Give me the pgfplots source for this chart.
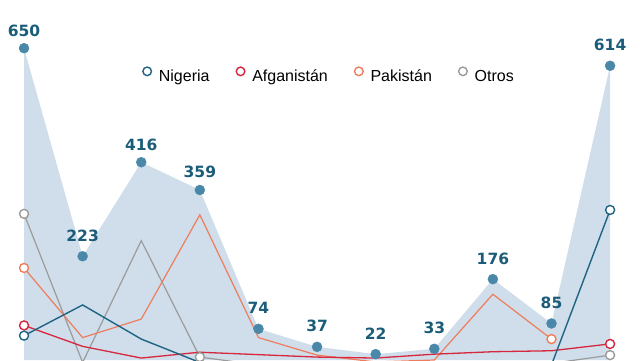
\documentclass[border=0pt]{standalone}
\usepackage{fontspec}
\setmainfont{Liberation Sans}
\newfontfamily\numfont{DejaVu Sans}
\usepackage{pgfplots}
\pgfplotsset{compat=1.18}
\definecolor{areac}{HTML}{CFDEEA}
\definecolor{dotc}{HTML}{4A88AA}
\definecolor{labc}{HTML}{1B5C79}
\definecolor{nig}{HTML}{1F6483}
\definecolor{afg}{HTML}{D7263D}
\definecolor{pak}{HTML}{EE7D5E}
\definecolor{otr}{HTML}{9B9B9B}
\begin{document}
\begin{tikzpicture}
\begin{axis}[name=ax, scale only axis, width=640pt, height=360pt,
  xmin=-0.41, xmax=10.51, ymin=10, ymax=749, axis lines=none, clip=true,
  legend columns=4,
  legend image code/.code={\draw[#1,line width=1.4pt,fill=white] (4.5pt,0) circle (4.3pt); \path (0pt,0) (14pt,0);},
  legend style={draw=none, fill=none, at={(0.514,0.79)}, anchor=center,
    font=\fontsize{16}{18}\selectfont, inner sep=0pt,
    /tikz/every even column/.append style={column sep=24pt}},
  legend cell align=left]
% total area
\addplot[fill=areac, draw=none, forget plot] coordinates {
(0,650)(1,223)(2,416)(3,359)(4,74)(5,37)(6,22)(7,33)(8,176)(9,85)(10,614)} \closedcycle;
% series lines
\addplot[otr, line width=1.2pt, forget plot] coordinates {
(0,310)(1,5)(2,255)(3,16)(4,0)(5,1)(6,0)(7,2)(8,3)(9,3)(10,20)};
\addplot[pak, line width=1.2pt, forget plot] coordinates {
(0,199)(1,56)(2,94)(3,308)(4,56)(5,20)(6,6)(7,10)(8,145)(9,53)};
\addplot[afg, line width=1.3pt, forget plot] coordinates {
(0,81)(1,38)(2,14)(3,26)(4,21)(5,16)(6,14)(7,22)(8,27)(9,29)(10,43)};
\addplot[nig, line width=1.4pt, forget plot] coordinates {
(0,60)(1,123)(2,53)(3,5)(4,0)(5,0)(6,0)(7,0)(8,0)(9,0)(10,318)};
% total dots
\addplot[only marks, mark=*, mark size=5pt, dotc, forget plot] coordinates {
(0,650)(1,223)(2,416)(3,359)(4,74)(5,37)(6,22)(7,33)(8,176)(9,85)(10,614)};
% labels
\addplot[only marks, mark=none, forget plot, point meta=explicit symbolic,
  nodes near coords, every node near coord/.append style={font=\numfont\bfseries\fontsize{15.5}{16}\selectfont, text=labc, anchor=base, inner sep=0pt, yshift=15pt}]
coordinates {(1,223)[223](4,74)[74](5,37)[37](6,22)[22](7,33)[33](8,176)[176](9,85)[85](10,614)[614]};
\addplot[only marks, mark=none, forget plot, point meta=explicit symbolic,
  nodes near coords, every node near coord/.append style={font=\numfont\bfseries\fontsize{15.5}{16}\selectfont, text=labc, anchor=base, inner sep=0pt, yshift=12pt}]
coordinates {(0,650)[650](2,416)[416](3,359)[359]};
% endpoint circles
\addplot[only marks, mark=*, mark size=4.5pt, mark options={fill=white, draw=otr, line width=1.4pt}, forget plot] coordinates {(0,310)(3,16)(10,20)};
\addplot[only marks, mark=*, mark size=4.5pt, mark options={fill=white, draw=pak, line width=1.4pt}, forget plot] coordinates {(0,199)(9,53)};
\addplot[only marks, mark=*, mark size=4.5pt, mark options={fill=white, draw=afg, line width=1.4pt}, forget plot] coordinates {(0,81)(10,43)};
\addplot[only marks, mark=*, mark size=4.5pt, mark options={fill=white, draw=nig, line width=1.4pt}, forget plot] coordinates {(0,60)(10,318)};
\addlegendimage{nig}\addlegendentry{Nigeria}
\addlegendimage{afg}\addlegendentry{Afganistán}
\addlegendimage{pak}\addlegendentry{Pakistán}
\addlegendimage{otr}\addlegendentry{Otros}
\end{axis}
\pgfresetboundingbox
\useasboundingbox (ax.south west) rectangle (ax.north east);
\end{tikzpicture}
\end{document}
